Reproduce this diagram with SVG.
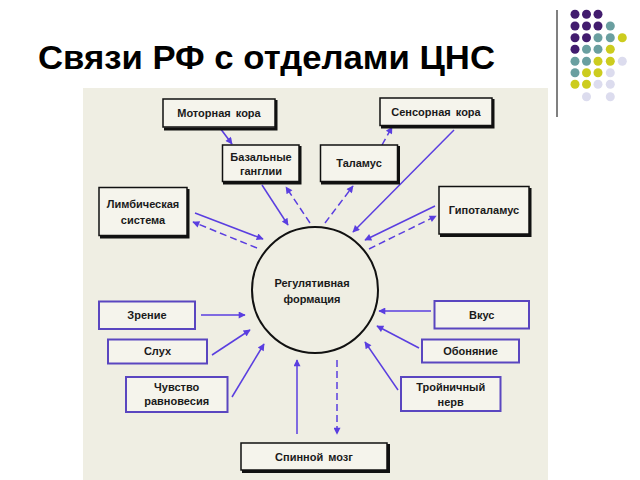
<svg xmlns="http://www.w3.org/2000/svg" width="640" height="480" viewBox="0 0 640 480">
<style>
.t{font-family:"Liberation Sans",Arial,sans-serif;font-weight:bold;font-size:11px;fill:#1a1a1a;text-anchor:middle;word-spacing:2px}
.bb{fill:#f5f4ec;stroke:#111;stroke-width:1.5}
.sh{fill:none;stroke:#111;stroke-width:3}
.pb{fill:#f5f4ec;stroke:#5a46c0;stroke-width:2}
.s{stroke:#5a3ee0;stroke-width:1.5;fill:none;marker-end:url(#ah)}
.d{stroke:#5a3ee0;stroke-width:1.5;fill:none;stroke-dasharray:7 4;marker-end:url(#ah)}
.dot{stroke:none}
</style>
<defs>
<marker id="ah" viewBox="0 0 10 10" refX="9" refY="5" markerWidth="9" markerHeight="7" markerUnits="userSpaceOnUse" orient="auto">
<path d="M0,0 L10,5 L0,10 z" fill="#5a3ee0"/>
</marker>
</defs>
<rect width="640" height="480" fill="#ffffff"/>
<text x="38" y="69" font-family="'Liberation Sans',Arial,sans-serif" font-weight="bold" font-size="34" fill="#000" textLength="457" lengthAdjust="spacingAndGlyphs">Связи РФ с отделами ЦНС</text>
<line x1="557" y1="10" x2="557" y2="117" stroke="#808080" stroke-width="2"/>
<g id="dots">
<circle class="dot" cx="575" cy="14.3" r="4.5" fill="#421c6e"/><circle class="dot" cx="586.5" cy="14.3" r="4.5" fill="#421c6e"/><circle class="dot" cx="598" cy="14.3" r="4.5" fill="#421c6e"/>
<circle class="dot" cx="575" cy="26" r="4.5" fill="#421c6e"/><circle class="dot" cx="586.5" cy="26" r="4.5" fill="#421c6e"/><circle class="dot" cx="598" cy="26" r="4.5" fill="#421c6e"/><circle class="dot" cx="610.3" cy="26" r="4.5" fill="#6a9fa0"/>
<circle class="dot" cx="575" cy="37.7" r="4.5" fill="#421c6e"/><circle class="dot" cx="586.5" cy="37.7" r="4.5" fill="#421c6e"/><circle class="dot" cx="598" cy="37.7" r="4.5" fill="#6a9fa0"/><circle class="dot" cx="610.3" cy="37.7" r="4.5" fill="#6a9fa0"/><circle class="dot" cx="622.3" cy="37.7" r="4.5" fill="#cccc1e"/>
<circle class="dot" cx="575" cy="49.3" r="4.5" fill="#421c6e"/><circle class="dot" cx="586.5" cy="49.3" r="4.5" fill="#6a9fa0"/><circle class="dot" cx="598" cy="49.3" r="4.5" fill="#6a9fa0"/><circle class="dot" cx="610.3" cy="49.3" r="4.5" fill="#cccc1e"/>
<circle class="dot" cx="575" cy="61.3" r="4.5" fill="#6a9fa0"/><circle class="dot" cx="586.5" cy="61.3" r="4.5" fill="#6a9fa0"/><circle class="dot" cx="598" cy="61.3" r="4.5" fill="#cccc1e"/><circle class="dot" cx="610.3" cy="61.3" r="4.5" fill="#cccc1e"/><circle class="dot" cx="622.3" cy="61.3" r="4.5" fill="#dcdcee"/>
<circle class="dot" cx="575" cy="72.7" r="4.5" fill="#6a9fa0"/><circle class="dot" cx="586.5" cy="72.7" r="4.5" fill="#cccc1e"/><circle class="dot" cx="598" cy="72.7" r="4.5" fill="#cccc1e"/><circle class="dot" cx="610.3" cy="72.7" r="4.5" fill="#dcdcee"/>
<circle class="dot" cx="575" cy="84.3" r="4.5" fill="#cccc1e"/><circle class="dot" cx="586.5" cy="84.3" r="4.5" fill="#cccc1e"/><circle class="dot" cx="598" cy="84.3" r="4.5" fill="#dcdcee"/><circle class="dot" cx="610.3" cy="84.3" r="4.5" fill="#dcdcee"/>
<circle class="dot" cx="586.5" cy="96.7" r="4.5" fill="#dcdcee"/><circle class="dot" cx="610.3" cy="96.7" r="4.5" fill="#dcdcee"/>
</g>
<rect x="83" y="88" width="465" height="392" fill="#efeee3"/>
<g id="connectors">
<line class="s" x1="220" y1="128" x2="232" y2="144"/>
<line class="s" x1="262" y1="185" x2="288" y2="225"/>
<line class="d" x1="310" y1="223" x2="286" y2="187"/>
<line class="d" x1="325" y1="223" x2="353" y2="186"/>
<line class="d" x1="382" y1="145" x2="392" y2="127"/>
<line class="s" x1="454" y1="130" x2="353" y2="232"/>
<line class="s" x1="195" y1="213" x2="263" y2="239"/>
<line class="d" x1="257" y1="248" x2="193" y2="222"/>
<line class="s" x1="435" y1="206" x2="365" y2="240"/>
<line class="d" x1="369" y1="249" x2="436" y2="216"/>
<line class="s" x1="201" y1="315" x2="245" y2="315"/>
<line class="s" x1="212" y1="355" x2="250" y2="330"/>
<line class="s" x1="232" y1="397" x2="264" y2="344"/>
<line class="s" x1="297" y1="434" x2="297" y2="360"/>
<line class="d" x1="337" y1="360" x2="337" y2="434"/>
<line class="s" x1="431" y1="311" x2="379" y2="311"/>
<line class="s" x1="419" y1="348" x2="377" y2="326"/>
<line class="s" x1="398" y1="390" x2="365" y2="342"/>
</g>
<g id="rf">
<circle cx="315" cy="290" r="63" fill="none" stroke="#111" stroke-width="2"/>
<text class="t" x="312" y="286.5">Регулятивная</text>
<text class="t" x="312" y="303">формация</text>
</g>
<g id="motor">
<path class="sh" d="M276,100 V129 H164"/>
<rect class="bb" x="163" y="99" width="112" height="28"/>
<text class="t" x="219" y="117">Моторная кора</text>
</g>
<g id="basal">
<path class="sh" d="M300,146 V183 H223"/>
<rect class="bb" x="222.5" y="145" width="76.5" height="36.5"/>
<text class="t" x="261" y="160.5">Базальные</text>
<text class="t" x="261" y="175">ганглии</text>
</g>
<g id="thalamus">
<path class="sh" d="M398.5,146 V183 H321"/>
<rect class="bb" x="320.5" y="145" width="77" height="36.5"/>
<text class="t" x="359" y="167">Таламус</text>
</g>
<g id="sensory">
<path class="sh" d="M493,99 V127 H381"/>
<rect class="bb" x="380" y="98" width="112" height="27.5"/>
<text class="t" x="436" y="116">Сенсорная кора</text>
</g>
<g id="limbic">
<path class="sh" d="M188,189 V237 H100"/>
<rect class="bb" x="99" y="187.5" width="88" height="48"/>
<text class="t" x="143" y="208">Лимбическая</text>
<text class="t" x="143" y="224">система</text>
</g>
<g id="hypo">
<path class="sh" d="M530,188 V235.5 H440"/>
<rect class="bb" x="439" y="186.5" width="90" height="47.5"/>
<text class="t" x="484" y="214">Гипоталамус</text>
</g>
<g id="vision">
<rect class="pb" x="99" y="301.5" width="96" height="27.5"/>
<text class="t" x="147" y="319">Зрение</text>
</g>
<g id="hearing">
<rect class="pb" x="108" y="339.5" width="99" height="24"/>
<text class="t" x="157.5" y="355">Слух</text>
</g>
<g id="balance">
<rect class="pb" x="126" y="377" width="101.5" height="35"/>
<text class="t" x="176.7" y="390.5">Чувство</text>
<text class="t" x="176.7" y="404.5">равновесия</text>
</g>
<g id="spinal">
<path class="sh" d="M388.5,444 V471.5 H242"/>
<rect class="bb" x="241" y="443" width="146" height="27"/>
<text class="t" x="314" y="460.5">Спинной мозг</text>
</g>
<g id="taste">
<rect class="pb" x="434.5" y="301" width="94.5" height="27.5"/>
<text class="t" x="481.7" y="318.5">Вкус</text>
</g>
<g id="smell">
<rect class="pb" x="422" y="339.5" width="97" height="23"/>
<text class="t" x="470.5" y="355">Обоняние</text>
</g>
<g id="trigeminal">
<rect class="pb" x="401" y="377" width="99.5" height="34"/>
<text class="t" x="450.7" y="390.5">Тройничный</text>
<text class="t" x="450.7" y="405.5">нерв</text>
</g>
</svg>
